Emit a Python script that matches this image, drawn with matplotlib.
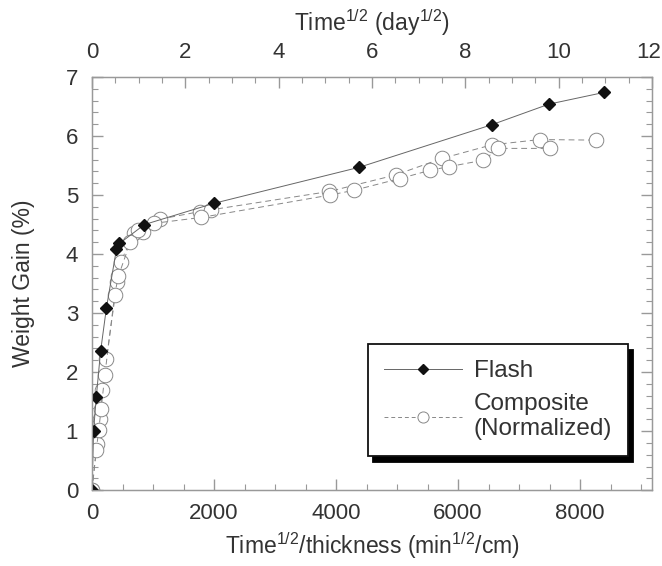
import matplotlib
matplotlib.use("Agg")
import matplotlib.pyplot as plt
from matplotlib.ticker import MultipleLocator, FuncFormatter
from matplotlib.lines import Line2D

plt.rcParams['font.family'] = ['Liberation Sans', 'DejaVu Sans']
plt.rcParams['mathtext.default'] = 'regular'

# Flash data
flash_x = [0, 25, 70, 140, 235, 400, 450, 860, 2000, 4380, 6550, 7490, 8400]
flash_y = [0, 1.0, 1.58, 2.35, 3.08, 4.08, 4.18, 4.50, 4.86, 5.47, 6.19, 6.54, 6.74]

# Composite (normalized), specimen A
comp_a_x = [0, 80, 130, 165, 235, 410, 470, 690, 840, 1110, 1770, 1955,
            3886, 4975, 5737, 6552, 7342, 8266]
comp_a_y = [0, 0.79, 1.20, 1.69, 2.22, 3.52, 3.87, 4.35, 4.38, 4.59, 4.72, 4.75,
            5.06, 5.34, 5.62, 5.85, 5.94, 5.93]
# Composite (normalized), specimen B
comp_b_x = [0, 70, 110, 150, 210, 370, 430, 630, 755, 1010, 1790,
            3902, 4294, 5050, 5547, 5845, 6416, 6662, 7506]
comp_b_y = [0, 0.68, 1.02, 1.38, 1.95, 3.30, 3.62, 4.21, 4.41, 4.52, 4.62,
            5.00, 5.08, 5.28, 5.42, 5.48, 5.59, 5.79, 5.79]

top_max = 12

fig = plt.figure(figsize=(6.62, 5.66), dpi=100)
ax = fig.add_axes([0.139, 0.134, 0.846, 0.730])

spine_c = '#999999'
txt_c = '#333333'
comp_c = '#888888'

for cx, cy in [(comp_a_x, comp_a_y), (comp_b_x, comp_b_y)]:
    ax.plot(cx, cy, linestyle=(0, (6, 4)), color=comp_c, lw=0.7,
            marker='o', ms=10.5, mfc='white', mec=comp_c, mew=0.7, zorder=2)
ax.plot(flash_x, flash_y, linestyle='-', color='#666666', lw=0.7,
        marker='D', ms=6.5, mfc='#111111', mec='#111111', zorder=3)

ax.set_xlim(0, 9180)
ax.set_ylim(0, 7)
ax.xaxis.set_major_locator(MultipleLocator(2000))
ax.xaxis.set_minor_locator(MultipleLocator(500))
ax.yaxis.set_major_locator(MultipleLocator(1))
ax.yaxis.set_minor_locator(MultipleLocator(0.2))
ax.tick_params(which='both', direction='in', color=spine_c, labelcolor=txt_c,
               labelsize=16, right=True, top=False)
ax.tick_params(axis='y', which='both', pad=10)
ax.tick_params(axis='x', which='both', pad=9)
ax.tick_params(which='major', length=8, width=1)
ax.tick_params(which='minor', length=4.5, width=0.8)
for s in ax.spines.values():
    s.set_color(spine_c)
    s.set_linewidth(1.0)

ax.set_xlabel('Time$^{1/2}$/thickness (min$^{1/2}$/cm)', fontsize=16.5, color=txt_c, labelpad=5)
ax.set_ylabel('Weight Gain (%)', fontsize=16.5, color=txt_c, labelpad=22)

ax2 = ax.twiny()
ax2.set_xlim(0, top_max)
ax2.xaxis.set_major_locator(MultipleLocator(2))
ax2.xaxis.set_minor_locator(MultipleLocator(0.5))
ax2.xaxis.set_major_formatter(FuncFormatter(lambda v, p: '' if abs(v - top_max) < 1e-9 else f'{v:g}'))
ax2.tick_params(which='both', direction='in', color=spine_c, labelcolor=txt_c,
                labelsize=16, pad=10)
ax2.tick_params(which='major', length=8, width=1)
ax2.tick_params(which='minor', length=4.5, width=0.8)
for s in ax2.spines.values():
    s.set_color(spine_c)
ax2.set_xlabel('Time$^{1/2}$ (day$^{1/2}$)', fontsize=16.5, color=txt_c, labelpad=8)
# last top tick label, nudged slightly left so it stays inside the figure
ax2.annotate(f'{top_max:g}', xy=(top_max, 1), xycoords=('data', 'axes fraction'),
             xytext=(-2.5, 10), textcoords='offset points', ha='center', va='bottom',
             fontsize=16, color=txt_c, annotation_clip=False)

h1 = Line2D([], [], linestyle='-', color='#666666', lw=0.7, marker='D', ms=5.5,
            mfc='#111111', mec='#111111')
h2 = Line2D([], [], linestyle=(0, (4, 3)), color=comp_c, lw=0.7, marker='o', ms=8,
            mfc='white', mec=comp_c, mew=0.7)
leg = ax.legend([h1, h2], ['Flash', 'Composite\n(Normalized)'], loc='lower left',
                bbox_to_anchor=(0.493, 0.082), borderaxespad=0, fontsize=17.5,
                handlelength=3.2, frameon=True, fancybox=False,
                shadow={'ox': 3.8, 'oy': -3.8, 'facecolor': 'black', 'edgecolor': 'black', 'alpha': 1},
                labelcolor=txt_c, borderpad=0.65, handletextpad=0.5, labelspacing=0.45)
leg.get_frame().set_edgecolor('#111111')
leg.get_frame().set_linewidth(1.3)
leg.get_frame().set_alpha(1)

fig.savefig('out.png', dpi=100)
